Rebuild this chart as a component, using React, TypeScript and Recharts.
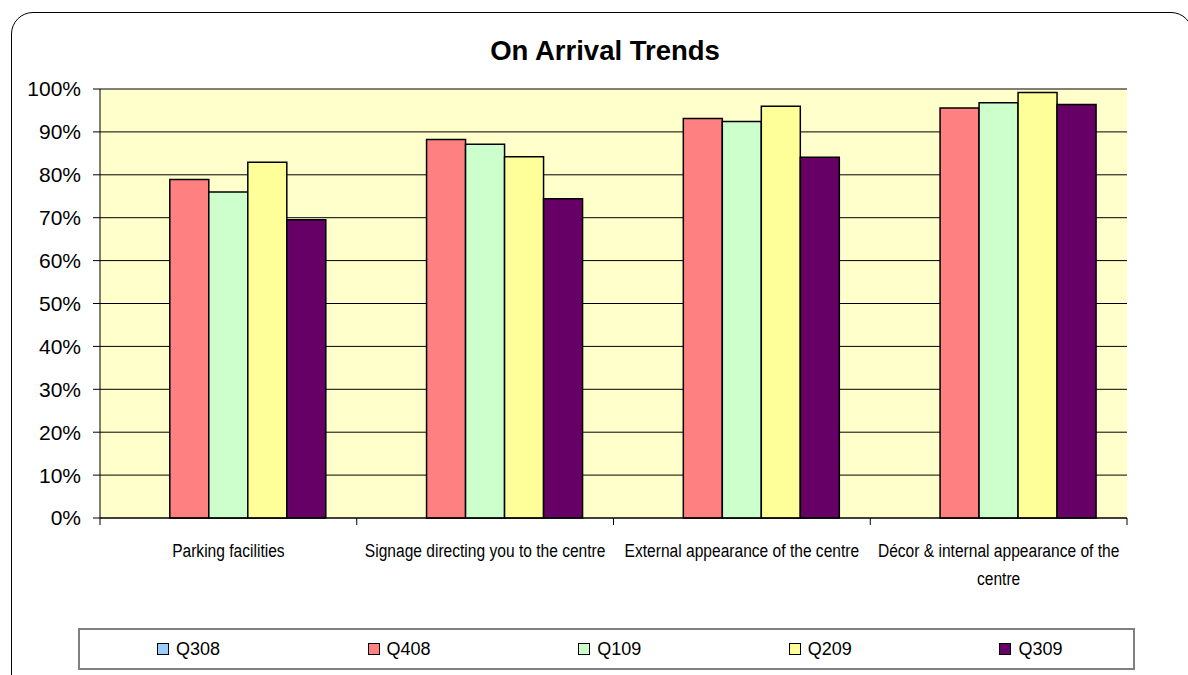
import { BarChart, Bar, XAxis, YAxis, CartesianGrid } from 'recharts';

// category labels along the x axis
const categories = [
  'Parking facilities',
  'Signage directing you to the centre',
  'External appearance of the centre',
  'Décor & internal appearance of the centre',
];

// series (quarters) - Q308 has no values in the picture
const seriesNames = ['Q308', 'Q408', 'Q109', 'Q209', 'Q309'];
const q308 = [null, null, null, null];
const q408 = [0.789, 0.882, 0.931, 0.956];
const q109 = [0.76, 0.871, 0.924, 0.968];
const q209 = [0.829, 0.842, 0.96, 0.992];
const q309 = [0.695, 0.744, 0.841, 0.964];

const yTicks = [0, 0.1, 0.2, 0.3, 0.4, 0.5, 0.6, 0.7, 0.8, 0.9, 1];

const COLORS = ['#99CCFF', '#FF8080', '#CCFFCC', '#FFFF99', '#660066'];

const W = 1188;
const H = 675;
const PLOT_LEFT = 100;
const PLOT_RIGHT = 1127;
const BAND = (PLOT_RIGHT - PLOT_LEFT) / categories.length;
const FONT = '"Liberation Sans", Arial, sans-serif';
// no narrow font installed, so squeeze the regular one like Arial Narrow
const NARROW_SCALE = 0.82;
const MAX_CHARS = 36;

const values = [q308, q408, q109, q209, q309];
const data = categories.map((name, i) => {
  const row: Record<string, any> = { name };
  seriesNames.forEach((s, j) => {
    row[s] = values[j][i];
  });
  return row;
});

// greedy word wrap on character count
function wrap(label: string) {
  const lines: string[] = [];
  let cur = '';
  label.split(' ').forEach((w) => {
    const next = cur ? cur + ' ' + w : w;
    if (next.length > MAX_CHARS && cur) {
      lines.push(cur);
      cur = w;
    } else {
      cur = next;
    }
  });
  if (cur) lines.push(cur);
  return lines;
}

// tick marks sit between categories like the Excel original
function CategoryTick(props: any) {
  const { x, y, payload, index } = props;
  const left = x - BAND / 2;
  const last = index === categories.length - 1;
  const lines = wrap(String(payload.value));
  return (
    <g>
      <line x1={left} y1={y} x2={left} y2={y + 7} stroke="#000" strokeWidth={1} />
      {last && <line x1={x + BAND / 2} y1={y} x2={x + BAND / 2} y2={y + 7} stroke="#000" strokeWidth={1} />}
      <g transform={`translate(${x},${y + 39}) scale(${NARROW_SCALE},1)`}>
        <text textAnchor="middle" fill="#000" style={{ fontFamily: FONT, fontSize: 19 }}>
          {lines.map((l, i) => (
            <tspan key={i} x={0} y={i * 28}>
              {l}
            </tspan>
          ))}
        </text>
      </g>
    </g>
  );
}

export default function App() {
  return (
    <div style={{ position: 'absolute', left: 0, top: 0, width: W, height: H, overflow: 'hidden', background: '#fff' }}>
      {/* rounded outer frame */}
      <div
        style={{
          position: 'absolute',
          left: 11,
          top: 12,
          width: 1182,
          height: 700,
          border: '1.5px solid #000',
          borderRadius: 22,
          boxSizing: 'border-box',
        }}
      />
      <div
        style={{
          position: 'absolute',
          left: 0,
          width: 1210,
          top: 35,
          textAlign: 'center',
          fontFamily: FONT,
          fontWeight: 'bold',
          fontSize: 27.5,
        }}
      >
        On Arrival Trends
      </div>
      <div style={{ position: 'absolute', left: 0, top: 0 }}>
        <BarChart
          width={W}
          height={H}
          data={data}
          margin={{ top: 89, right: 61, bottom: 0, left: 40 }}
          barCategoryGap="12%"
          barGap={0}
        >
          <CartesianGrid
            yAxisId="left"
            vertical={false}
            stroke="#000"
            strokeWidth={1}
            fill="#FFFFCC"
            fillOpacity={1}
          />
          <XAxis
            dataKey="name"
            height={157}
            interval={0}
            tickLine={false}
            tickSize={0}
            tickMargin={0}
            axisLine={{ stroke: '#000', strokeWidth: 1 }}
            tick={<CategoryTick />}
          />
          <XAxis xAxisId="top" orientation="top" height={0} tick={false} tickLine={false} axisLine={{ stroke: '#808080', strokeWidth: 2 }} />
          <YAxis
            yAxisId="left"
            width={60}
            domain={[0, 1]}
            ticks={yTicks}
            interval={0}
            tickSize={7}
            tickMargin={12}
            tickFormatter={(v: number) => `${Math.round(v * 100)}%`}
            tick={{ fill: '#000', fontSize: 21, fontFamily: FONT }}
            tickLine={{ stroke: '#000' }}
            axisLine={{ stroke: '#000', strokeWidth: 1 }}
          />
          <YAxis yAxisId="right" orientation="right" width={0} tick={false} tickLine={false} axisLine={{ stroke: '#808080', strokeWidth: 2 }} />
          {seriesNames.map((s, i) => (
            <Bar
              key={s}
              dataKey={s}
              yAxisId="left"
              fill={COLORS[i]}
              stroke="#000"
              strokeWidth={1.5}
              isAnimationActive={false}
            />
          ))}
        </BarChart>
      </div>
      {/* legend box */}
      <div
        style={{
          position: 'absolute',
          left: 78,
          top: 628,
          width: 1057,
          height: 42,
          border: '2px solid #808080',
          boxSizing: 'border-box',
          display: 'flex',
          alignItems: 'center',
          fontFamily: FONT,
          fontSize: 18,
        }}
      >
        {seriesNames.map((s, i) => (
          <div key={s} style={{ width: 1057 / seriesNames.length, display: 'flex', alignItems: 'center', paddingLeft: 77, boxSizing: 'border-box' }}>
            <span
              style={{
                display: 'inline-block',
                width: 10,
                height: 10,
                background: COLORS[i],
                border: '1px solid #000',
                marginRight: 7,
              }}
            />
            <span>{s}</span>
          </div>
        ))}
      </div>
    </div>
  );
}
